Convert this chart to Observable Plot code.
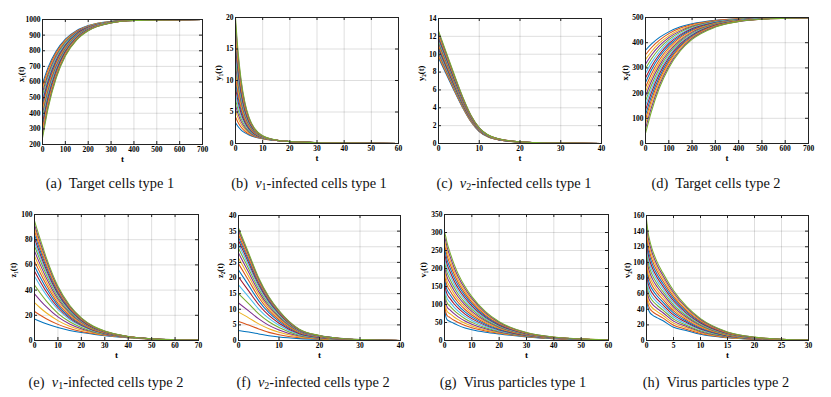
<!DOCTYPE html>
<html><head><meta charset="utf-8">
<script src="https://cdn.jsdelivr.net/npm/d3@7"></script>
<script src="https://cdn.jsdelivr.net/npm/@observablehq/plot@0.6"></script>
<style>
body{margin:0;background:#fff;}
#fig{position:relative;width:831px;height:397px;overflow:hidden;}
#fig, #fig *{font-family:"Liberation Serif",serif !important;}
.cap{position:absolute;width:260px;text-align:center;font-size:14.4px;line-height:16px;color:#111;white-space:nowrap;}
.cap sub{font-size:10px;vertical-align:-2px;line-height:0;}
</style></head><body><div id="fig"></div>
<script>
// MATLAB default colour order, cycled over the 19 runs
const palette = ["#0072BD","#D95319","#EDB120","#7E2F8E","#77AC30","#4DBEEE","#A2142F"];

// (a) x1(t): one row per run, sampled at tA
const tA = [0, 25, 60, 100, 150, 200, 300, 400, 700];
const x1Runs = [
 [590,695,798,874,930,961,988,996,1000],[571,680,788,868,927,959,987,996,1000],
 [551,666,778,862,923,957,987,996,1000],[532,651,769,856,920,955,986,996,1000],
 [512,636,759,850,916,954,986,996,1000],[493,622,750,844,913,952,985,995,1000],
 [473,607,740,837,910,950,985,995,1000],[454,593,730,832,907,948,984,995,1000],
 [434,578,721,825,903,946,983,995,1000],[415,564,711,820,900,944,983,995,1000],
 [396,550,702,814,897,943,982,995,1000],[376,535,692,808,893,941,982,994,1000],
 [357,521,683,802,890,939,981,994,1000],[337,506,673,796,886,937,981,994,1000],
 [318,492,663,790,883,935,980,994,1000],[298,477,653,784,880,933,979,994,1000],
 [279,463,644,778,877,931,979,994,1000],[259,448,634,771,873,930,978,993,1000],
 [240,434,625,766,870,928,978,993,1000]
];

// (b) y1(t)
const tB = [0, 1, 2, 3.5, 5, 7, 10, 15, 20, 30, 40, 60];
const y1Runs = [
 [3.3,2.66,2.18,1.69,1.34,1.03,0.75,0.47,0.30,0.13,0.06,0.01],
 [4.2,3.29,2.62,1.94,1.49,1.10,0.77,0.47,0.30,0.13,0.06,0.01],
 [5.2,3.99,3.11,2.23,1.65,1.19,0.80,0.48,0.30,0.13,0.06,0.01],
 [6.1,4.62,3.55,2.49,1.80,1.26,0.83,0.48,0.30,0.13,0.06,0.01],
 [7.0,5.25,3.99,2.75,1.96,1.33,0.85,0.48,0.30,0.13,0.06,0.01],
 [7.9,5.88,4.43,3.00,2.11,1.41,0.88,0.49,0.31,0.13,0.06,0.01],
 [8.9,6.58,4.92,3.29,2.27,1.49,0.91,0.49,0.31,0.13,0.06,0.01],
 [9.8,7.21,5.36,3.55,2.43,1.56,0.93,0.50,0.31,0.13,0.06,0.01],
 [10.7,7.84,5.80,3.81,2.58,1.64,0.96,0.50,0.31,0.13,0.06,0.01],
 [11.6,8.47,6.25,4.07,2.73,1.71,0.98,0.51,0.31,0.13,0.06,0.01],
 [12.6,9.17,6.73,4.35,2.89,1.79,1.01,0.51,0.31,0.13,0.06,0.01],
 [13.5,9.80,7.18,4.61,3.05,1.87,1.03,0.51,0.31,0.13,0.06,0.01],
 [14.4,10.43,7.62,4.87,3.20,1.94,1.06,0.52,0.31,0.13,0.06,0.01],
 [15.4,11.13,8.11,5.15,3.36,2.02,1.09,0.52,0.31,0.13,0.06,0.01],
 [16.3,11.76,8.55,5.41,3.52,2.10,1.11,0.53,0.31,0.13,0.06,0.01],
 [17.2,12.39,8.99,5.67,3.67,2.17,1.14,0.53,0.31,0.13,0.06,0.01],
 [18.1,13.02,9.43,5.93,3.82,2.24,1.16,0.54,0.31,0.13,0.06,0.01],
 [19.1,13.72,9.92,6.21,3.98,2.33,1.19,0.54,0.31,0.13,0.06,0.01],
 [20.0,14.35,10.36,6.47,4.14,2.40,1.22,0.55,0.32,0.13,0.06,0.01]
];

// (c) y2(t)
const tC = [0, 2, 4, 6, 8, 10, 12, 15, 20, 25, 30, 40];
const y2Runs = [
 [9.6,7.68,5.76,3.94,2.40,1.34,0.77,0.38,0.15,0.07,0.03,0],
 [9.77,7.82,5.86,4.01,2.44,1.37,0.78,0.39,0.16,0.07,0.03,0],
 [9.93,7.94,5.96,4.07,2.48,1.39,0.79,0.40,0.16,0.07,0.03,0],
 [10.1,8.08,6.06,4.14,2.53,1.41,0.81,0.40,0.16,0.07,0.03,0],
 [10.27,8.22,6.16,4.21,2.57,1.44,0.82,0.41,0.16,0.07,0.03,0],
 [10.43,8.34,6.26,4.28,2.61,1.46,0.83,0.42,0.17,0.07,0.03,0],
 [10.6,8.48,6.36,4.35,2.65,1.48,0.85,0.42,0.17,0.07,0.03,0],
 [10.77,8.62,6.46,4.42,2.69,1.51,0.86,0.43,0.17,0.08,0.03,0],
 [10.93,8.74,6.56,4.48,2.73,1.53,0.87,0.44,0.17,0.08,0.03,0],
 [11.1,8.88,6.66,4.55,2.78,1.55,0.89,0.44,0.18,0.08,0.03,0],
 [11.27,9.02,6.76,4.62,2.82,1.58,0.90,0.45,0.18,0.08,0.03,0],
 [11.43,9.14,6.86,4.69,2.86,1.60,0.91,0.46,0.18,0.08,0.03,0],
 [11.6,9.28,6.96,4.76,2.90,1.62,0.93,0.46,0.19,0.08,0.03,0],
 [11.77,9.42,7.06,4.83,2.94,1.65,0.94,0.47,0.19,0.08,0.04,0],
 [11.93,9.54,7.16,4.89,2.98,1.67,0.95,0.48,0.19,0.08,0.04,0],
 [12.1,9.68,7.26,4.96,3.03,1.69,0.97,0.48,0.19,0.08,0.04,0],
 [12.27,9.82,7.36,5.03,3.07,1.72,0.98,0.49,0.20,0.09,0.04,0],
 [12.43,9.94,7.46,5.10,3.11,1.74,0.99,0.50,0.20,0.09,0.04,0],
 [12.6,10.08,7.56,5.17,3.15,1.76,1.01,0.50,0.20,0.09,0.04,0]
];

// (d) x2(t)
const tD = [0, 25, 60, 100, 150, 200, 300, 400, 500, 700];
const x2Runs = [
 [370,394,421,443,463,475,489,495,498,500],[352,380,410,436,458,472,488,495,498,500],
 [333,364,399,427,452,468,486,494,497,500],[315,350,388,420,447,465,485,493,497,499],
 [297,335,377,412,442,462,483,493,497,499],[278,320,365,404,436,458,482,492,497,499],
 [260,305,354,396,431,455,480,491,496,499],[242,291,344,388,426,451,479,491,496,499],
 [223,275,332,380,421,448,477,490,496,499],[205,260,321,372,415,444,476,489,495,499],
 [187,246,310,364,410,441,474,489,495,499],[168,230,299,356,405,437,473,488,495,499],
 [150,216,288,348,400,434,471,488,495,499],[132,201,277,340,395,430,470,487,494,499],
 [113,186,265,332,389,427,468,486,494,499],[95,171,254,324,384,423,467,486,494,499],
 [77,157,243,316,379,420,465,485,493,499],[58,141,232,308,373,417,464,484,493,499],
 [40,126,221,300,368,413,462,484,493,499]
];

// (e) z1(t)
const tE = [0, 2.5, 5, 10, 15, 20, 25, 30, 40, 50, 60, 70];
const z1Runs = [
 [17,15.0,13.2,10.3,8.0,6.3,5.0,3.8,2.2,1.2,0.6,0.3],
 [23,20.0,17.3,12.8,9.5,7.2,5.5,4.1,2.3,1.21,0.6,0.3],
 [30,25.8,22.0,15.8,11.3,8.3,6.1,4.4,2.4,1.22,0.6,0.3],
 [37,31.7,26.8,18.7,13.1,9.3,6.7,4.7,2.5,1.23,0.6,0.3],
 [44,37.5,31.5,21.6,14.9,10.4,7.2,5.1,2.5,1.24,0.6,0.3],
 [51,43.3,36.2,24.6,16.7,11.4,7.8,5.4,2.6,1.25,0.6,0.3],
 [55,46.7,38.9,26.2,17.7,12.0,8.2,5.6,2.7,1.25,0.6,0.3],
 [59,50.0,41.6,27.9,18.7,12.6,8.5,5.8,2.7,1.26,0.6,0.3],
 [63,53.3,44.4,29.6,19.8,13.2,8.8,6.0,2.8,1.26,0.6,0.3],
 [67,56.7,47.1,31.3,20.8,13.8,9.1,6.2,2.8,1.27,0.6,0.3],
 [71,60.0,49.8,32.9,21.8,14.4,9.5,6.4,2.9,1.27,0.6,0.3],
 [75,63.3,52.5,34.6,22.8,15.0,9.8,6.6,2.9,1.28,0.6,0.3],
 [78,65.8,54.5,35.9,23.6,15.5,10.1,6.7,3.0,1.28,0.6,0.3],
 [81,68.3,56.5,37.1,24.4,15.9,10.3,6.8,3.0,1.29,0.6,0.3],
 [84,70.8,58.6,38.4,25.1,16.4,10.6,7.0,3.1,1.29,0.6,0.3],
 [87,73.3,60.6,39.6,25.9,16.8,10.8,7.1,3.1,1.29,0.6,0.3],
 [89.5,75.4,62.3,40.7,26.6,17.2,11.0,7.2,3.1,1.3,0.6,0.3],
 [92,77.5,64.0,41.7,27.2,17.6,11.2,7.4,3.2,1.3,0.6,0.3],
 [95,80.0,66.0,43.0,28.0,18.0,11.5,7.5,3.2,1.3,0.6,0.3]
];

// (f) z2(t)
const tF = [0, 2.5, 5, 7.5, 10, 15, 20, 25, 30, 40];
const z2Runs = [
 [3.2,2.7,2.1,1.5,1.1,0.6,0.35,0.2,0.12,0.03],
 [6.1,4.93,3.68,2.6,1.85,0.87,0.46,0.24,0.13,0.03],
 [9.1,7.25,5.32,3.75,2.63,1.14,0.58,0.29,0.15,0.03],
 [12,9.48,6.9,4.85,3.38,1.41,0.69,0.33,0.16,0.03],
 [15,11.8,8.54,6.0,4.16,1.68,0.8,0.38,0.18,0.03],
 [17.8,13.95,10.07,7.06,4.88,1.94,0.91,0.42,0.19,0.03],
 [20.3,15.88,11.43,8.01,5.53,2.17,1.0,0.45,0.2,0.03],
 [22.6,17.65,12.69,8.89,6.12,2.38,1.09,0.49,0.21,0.03],
 [24.6,19.2,13.78,9.65,6.64,2.56,1.16,0.52,0.22,0.03],
 [26.4,20.58,14.76,10.34,7.11,2.73,1.23,0.55,0.23,0.03],
 [28,21.82,15.64,10.95,7.52,2.87,1.29,0.57,0.24,0.03],
 [29.5,22.97,16.46,11.52,7.91,3.01,1.35,0.59,0.25,0.03],
 [30.8,23.98,17.17,12.01,8.25,3.13,1.4,0.61,0.25,0.03],
 [32,24.9,17.82,12.47,8.56,3.24,1.45,0.63,0.26,0.03],
 [33,25.67,18.37,12.85,8.82,3.33,1.48,0.65,0.27,0.03],
 [33.9,26.37,18.86,13.2,9.05,3.41,1.52,0.66,0.27,0.03],
 [34.7,26.98,19.3,13.5,9.26,3.49,1.55,0.67,0.27,0.03],
 [35.3,27.45,19.62,13.73,9.41,3.54,1.57,0.68,0.28,0.03],
 [36,27.99,20.01,14.0,9.59,3.6,1.6,0.69,0.28,0.03]
];

// (g) v1(t): one row per time sample, one column per run
const tG = [0, 0.5, 1, 2, 3.5, 5, 7.5, 10, 15, 20, 30, 40, 60];
const v1Snapshots = [
 [95,106.5,118,129.5,141,152.5,164,175.5,187,198.5,210,221.5,233,244.5,256,267.5,279,290.5,302],
 [66,78.3,90.6,102.8,115.1,127.4,139.7,152.0,164.2,176.5,188.8,201.1,213.4,225.6,237.9,250.2,262.5,274.8,287],
 [57,68.8,80.7,92.5,104.3,116.2,128.0,139.8,151.6,163.5,175.3,187.1,199.0,210.8,222.6,234.5,246.3,258.1,270],
 [53,63.7,74.3,85.0,95.7,106.4,117.0,127.7,138.4,149.0,159.7,170.4,181.0,191.7,202.4,213.1,223.7,234.4,245],
 [47,56.2,65.3,74.5,83.7,92.9,102.0,111.2,120.4,129.5,138.7,147.9,157.0,166.2,175.4,184.6,193.7,202.9,212],
 [42,49.9,57.9,65.8,73.8,81.7,89.6,97.6,105.5,113.5,121.4,129.3,137.3,145.2,153.2,161.1,169.0,177.0,185],
 [35,41.4,47.8,54.2,60.6,66.9,73.3,79.7,86.1,92.5,98.9,105.3,111.7,118.1,124.5,130.8,137.2,143.6,150],
 [30,35.1,40.2,45.3,50.4,55.6,60.7,65.8,70.9,76.0,81.1,86.2,91.3,96.4,101.6,106.7,111.8,116.9,122],
 [23,26.2,29.3,32.5,35.7,38.8,42.0,45.2,48.3,51.5,54.7,57.8,61.0,64.2,67.3,70.5,73.7,76.8,80],
 [18,19.9,21.8,23.7,25.6,27.4,29.3,31.2,33.1,35.0,36.9,38.8,40.7,42.6,44.4,46.3,48.2,50.1,52],
 [10,10.7,11.3,12.0,12.7,13.3,14.0,14.7,15.3,16.0,16.7,17.3,18.0,18.7,19.3,20.0,20.7,21.3,22],
 [5,5.25,5.5,5.75,6,6.25,6.5,6.75,7,7.25,7.5,7.75,8,8.25,8.5,8.75,9,9.25,9.5],
 [1.2,1.22,1.23,1.25,1.27,1.28,1.3,1.32,1.33,1.35,1.37,1.38,1.4,1.42,1.43,1.45,1.47,1.48,1.5]
];

// (h) v2(t)
const tH = [0, 0.3, 0.6, 1, 2, 3, 5, 7.5, 10, 15, 20, 25, 30];
const v2Snapshots = [
 [55,60.6,66.1,71.7,77.2,82.8,88.3,93.9,99.4,105.0,110.6,116.1,121.7,127.2,132.8,138.3,143.9,149.4,155],
 [41,46.4,51.8,57.2,62.6,67.9,73.3,78.7,84.1,89.5,94.9,100.3,105.7,111.1,116.4,121.8,127.2,132.6,138],
 [36,41.1,46.2,51.3,56.4,61.6,66.7,71.8,76.9,82.0,87.1,92.2,97.3,102.4,107.6,112.7,117.8,122.9,128],
 [33,37.7,42.4,47.2,51.9,56.6,61.3,66.1,70.8,75.5,80.2,84.9,89.7,94.4,99.1,103.8,108.6,113.3,118],
 [29,32.9,36.9,40.8,44.8,48.7,52.7,56.6,60.6,64.5,68.4,72.4,76.3,80.3,84.2,88.2,92.1,96.1,100],
 [25.5,28.9,32.3,35.8,39.2,42.6,46.0,49.4,52.8,56.3,59.7,63.1,66.5,69.9,73.3,76.8,80.2,83.6,87],
 [17,19.6,22.2,24.8,27.4,30.1,32.7,35.3,37.9,40.5,43.1,45.7,48.3,50.9,53.6,56.2,58.8,61.4,64],
 [12.5,14.2,15.9,17.6,19.3,21.0,22.7,24.4,26.1,27.7,29.4,31.1,32.8,34.5,36.2,37.9,39.6,41.3,43],
 [8,9.1,10.2,11.3,12.4,13.6,14.7,15.8,16.9,18.0,19.1,20.2,21.3,22.4,23.6,24.7,25.8,26.9,28],
 [3.4,3.8,4.2,4.7,5.1,5.5,5.9,6.4,6.8,7.2,7.6,8.0,8.5,8.9,9.3,9.7,10.2,10.6,11],
 [1.4,1.56,1.72,1.88,2.04,2.21,2.37,2.53,2.69,2.85,3.01,3.17,3.33,3.49,3.65,3.82,3.98,4.14,4.3],
 [0.6,0.66,0.72,0.78,0.84,0.91,0.97,1.03,1.09,1.15,1.21,1.27,1.33,1.39,1.45,1.52,1.58,1.64,1.7],
 [0.3,0.32,0.34,0.37,0.39,0.41,0.43,0.45,0.48,0.5,0.52,0.54,0.56,0.59,0.61,0.63,0.65,0.68,0.7]
];

// tick values
const ticksT700 = [0,100,200,300,400,500,600,700];
const ticksT60 = [0,10,20,30,40,50,60];
const ticksT40 = [0,10,20,30,40];
const ticksT70 = [0,10,20,30,40,50,60,70];
const ticksT30 = [0,5,10,15,20,25,30];
const ticksX1 = [200,300,400,500,600,700,800,900,1000];
const ticksY1 = [0,5,10,15,20];
const ticksY2 = [0,2,4,6,8,10,12,14];
const ticksX2 = [0,100,200,300,400,500];
const ticksZ1 = [0,20,40,60,80,100];
const ticksZ2 = [0,5,10,15,20,25,30,35,40];
const ticksV1 = [0,50,100,150,200,250,300,350];
const ticksV2 = [0,20,40,60,80,100,120,140,160];

// labels
const yLabels = ["x\u2081(t)","y\u2081(t)","y\u2082(t)","x\u2082(t)","z\u2081(t)","z\u2082(t)","v\u2081(t)","v\u2082(t)"];
const capLetters = ["(a)","(b)","(c)","(d)","(e)","(f)","(g)","(h)"];
const capTexts = ["Target cells type 1","<i>v</i><sub>1</sub>-infected cells type 1","<i>v</i><sub>2</sub>-infected cells type 1","Target cells type 2",
  "<i>v</i><sub>1</sub>-infected cells type 2","<i>v</i><sub>2</sub>-infected cells type 2","Virus particles type 1","Virus particles type 2"];

function fromRuns(times, runs){ return runs.flatMap((row, run) => row.map((v, k) => ({t: times[k], v, run}))); }
function fromSnapshots(times, rows){ return rows.flatMap((row, k) => row.map((v, run) => ({t: times[k], v, run}))); }

const panels = [
 {data: fromRuns(tA, x1Runs), xd:[0,700], yd:[200,1000], xt:ticksT700, yt:ticksX1, frame:[42,202,19,144], ylx:-21, cap:[110,175]},
 {data: fromRuns(tB, y1Runs), xd:[0,60], yd:[0,20], xt:ticksT60, yt:ticksY1, frame:[235,398,17,143], ylx:-17, cap:[309,175]},
 {data: fromRuns(tC, y2Runs), xd:[0,40], yd:[0,14], xt:ticksT40, yt:ticksY2, frame:[438,601,18,143], ylx:-17, cap:[514,175]},
 {data: fromRuns(tD, x2Runs), xd:[0,700], yd:[0,500], xt:ticksT700, yt:ticksX2, frame:[645,808,17,143], ylx:-20, cap:[716,175]},
 {data: fromRuns(tE, z1Runs), xd:[0,70], yd:[0,100], xt:ticksT70, yt:ticksZ1, frame:[34,198,214,340], ylx:-21, cap:[106,374]},
 {data: fromRuns(tF, z2Runs), xd:[0,40], yd:[0,40], xt:ticksT40, yt:ticksZ2, frame:[238,400,215,340], ylx:-18, cap:[313,374]},
 {data: fromSnapshots(tG, v1Snapshots), xd:[0,60], yd:[0,350], xt:ticksT60, yt:ticksV1, frame:[444,608,214,340], ylx:-21, cap:[513,374]},
 {data: fromSnapshots(tH, v2Snapshots), xd:[0,30], yd:[0,160], xt:ticksT30, yt:ticksV2, frame:[646,808,215,340], ylx:-19, cap:[716,374]}
];

const fig = document.getElementById("fig");
const ML = 34, MR = 8, MT = 6, MB = 26;
panels.forEach((p, idx) => {
  const [l, r, t, b] = p.frame;
  const fw = r - l, fh = b - t;
  const chart = Plot.plot({
    width: fw + ML + MR, height: fh + MT + MB,
    marginLeft: ML, marginRight: MR, marginTop: MT, marginBottom: MB,
    style: {fontFamily: "'Liberation Serif', serif", fontWeight: "bold", fontSize: "7.5px", color: "#000", background: "transparent", overflow: "visible"},
    x: {domain: p.xd, label: null},
    y: {domain: p.yd, label: null},
    marks: [
      Plot.gridX(p.xt, {stroke: "#000", strokeOpacity: 0.13}),
      Plot.gridY(p.yt, {stroke: "#000", strokeOpacity: 0.13}),
      Plot.lineY(p.data, {x: "t", y: "v", z: "run", stroke: d => palette[d.run % 7], curve: "monotone-x", strokeWidth: 1.05, clip: true}),
      Plot.tickX(p.xt, {x: d => d, insetTop: fh - 3, stroke: "#222"}),
      Plot.tickX(p.xt, {x: d => d, insetBottom: fh - 3, stroke: "#222"}),
      Plot.tickY(p.yt, {y: d => d, insetRight: fw - 3, stroke: "#222"}),
      Plot.tickY(p.yt, {y: d => d, insetLeft: fw - 3, stroke: "#222"}),
      Plot.frame({stroke: "#222", strokeWidth: 1}),
      Plot.axisX(p.xt, {tickSize: 0, tickPadding: 2, tickFormat: d => String(d), label: null}),
      Plot.axisY(p.yt, {tickSize: 0, tickPadding: 2, tickFormat: d => String(d), label: null}),
      Plot.text(["t"], {text: d => d, frameAnchor: "bottom", dy: 17, fontSize: 9, fontWeight: "bold"}),
      Plot.text([yLabels[idx]], {text: d => d, frameAnchor: "left", dx: p.ylx, rotate: -90, fontSize: 8.5, fontWeight: "bold"})
    ]
  });
  chart.style.position = "absolute";
  chart.style.left = (l - ML) + "px";
  chart.style.top = (t - MT) + "px";
  fig.appendChild(chart);

  const cap = document.createElement("div");
  cap.className = "cap";
  cap.style.left = (p.cap[0] - 130) + "px";
  cap.style.top = p.cap[1] + "px";
  cap.innerHTML = capLetters[idx] + "&nbsp; " + capTexts[idx];
  fig.appendChild(cap);
});
</script>
</body></html>
